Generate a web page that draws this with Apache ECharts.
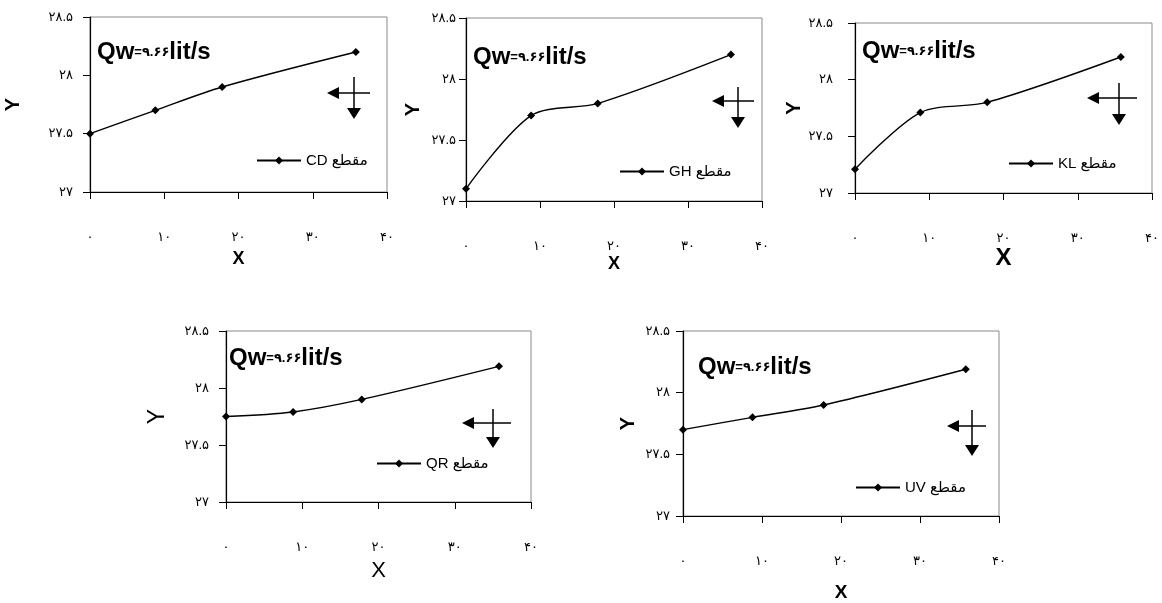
<!DOCTYPE html>
<html><head><meta charset="utf-8">
<script src="https://cdn.jsdelivr.net/npm/echarts@6/dist/echarts.min.js"></script>
<style>html,body{margin:0;padding:0;background:#fff}#c{width:1162px;height:603px}</style>
</head><body><div id="c"></div>
<script>
// ---- data ----
const xValues = [0, 8.8, 17.8, 35.8];
const sectionNames = ['مقطع CD', 'مقطع GH', 'مقطع KL', 'مقطع QR', 'مقطع UV'];
const yCD = [27.50, 27.70, 27.90, 28.20];
const yGH = [27.10, 27.70, 27.80, 28.20];
const yKL = [27.21, 27.71, 27.80, 28.20];
const yQR = [27.75, 27.79, 27.90, 28.19];
const yUV = [27.70, 27.80, 27.90, 28.19];
const xTicks = [0, 10, 20, 30, 40];
const yTicks = [27, 27.5, 28, 28.5];
const discharge = '9.66';
const unit = 'lit/s';
const seriesY = [yCD, yGH, yKL, yQR, yUV];

// ---- layout / style ----
const FONT = 'Liberation Sans, DejaVu Sans, sans-serif';
const toFa = s => String(s).replace(/[0-9]/g, d => '۰۱۲۳۴۵۶۷۸۹'[d]);
const L = [
  {g:[90,17,297,175], xn:{s:18,b:'bold',gap:58}, yn:{s:20,b:'bold',gap:67}, ym:17, t:[97,40], lg:[256,153],
   a:{hx1:327,hx2:370,hy:93,vx:354,vy1:77,vy2:119}},
  {g:[466,18,296,183], xn:{s:18,b:'bold',gap:54}, yn:{s:20,b:'bold',gap:43}, ym:10, t:[473,45], lg:[619,164],
   a:{hx1:712,hx2:754,hy:101,vx:738,vy1:87,vy2:128}},
  {g:[855,23,297,170], xn:{s:24,b:'bold',gap:38}, yn:{s:20,b:'bold',gap:37}, ym:22, t:[862,39], lg:[1008,156],
   a:{hx1:1087,hx2:1137,hy:98,vx:1119,vy1:83,vy2:125}},
  {g:[226,331,305,171], xn:{s:22,b:'normal',gap:58}, yn:{s:23,b:'normal',gap:57}, ym:17, t:[229,346], lg:[376,456],
   a:{hx1:462,hx2:511,hy:423,vx:493,vy1:409,vy2:448}},
  {g:[683,331,316,186], xn:{s:19,b:'bold',gap:67}, yn:{s:20,b:'bold',gap:45}, ym:13, t:[698,355], lg:[855,480],
   a:{hx1:947,hx2:986,hy:426,vx:972,vy1:410,vy2:456}}
];

function arrow(a){
  const st = {stroke:'#000', lineWidth:1.5};
  return [
    {type:'line', shape:{x1:a.hx1+8,y1:a.hy,x2:a.hx2,y2:a.hy}, style:st},
    {type:'polygon', shape:{points:[[a.hx1,a.hy],[a.hx1+12,a.hy-6],[a.hx1+12,a.hy+6]]}, style:{fill:'#000'}},
    {type:'line', shape:{x1:a.vx,y1:a.vy1,x2:a.vx,y2:a.vy2-8}, style:st},
    {type:'polygon', shape:{points:[[a.vx,a.vy2],[a.vx-7,a.vy2-11],[a.vx+7,a.vy2-11]]}, style:{fill:'#000'}}
  ];
}

const grid=[], xAxis=[], yAxis=[], series=[], legend=[], title=[], graphic=[];
L.forEach((p,i)=>{
  grid.push({left:p.g[0], top:p.g[1], width:p.g[2], height:p.g[3], show:true, borderColor:'#8a8a8a', borderWidth:1, containLabel:false});
  xAxis.push({gridIndex:i, type:'value', min:xTicks[0], max:xTicks[xTicks.length-1], interval:10,
    name:'X', nameLocation:'middle', nameGap:p.xn.gap,
    nameTextStyle:{fontFamily:FONT, fontSize:p.xn.s, fontWeight:p.xn.b, color:'#000'},
    axisLine:{show:true, lineStyle:{color:'#000', width:1.2}},
    axisTick:{show:true, inside:false, length:7, lineStyle:{color:'#000'}},
    axisLabel:{margin:39, fontFamily:FONT, fontSize:13, color:'#000', formatter:v=>toFa(v)},
    splitLine:{show:false}});
  yAxis.push({gridIndex:i, type:'value', min:yTicks[0], max:yTicks[yTicks.length-1], interval:0.5,
    name:'Y', nameLocation:'middle', nameGap:p.yn.gap,
    nameTextStyle:{fontFamily:FONT, fontSize:p.yn.s, fontWeight:p.yn.b, color:'#000'},
    axisLine:{show:true, lineStyle:{color:'#000', width:1.2}},
    axisTick:{show:true, inside:false, length:7, lineStyle:{color:'#000'}},
    axisLabel:{margin:p.ym, fontFamily:FONT, fontSize:13, color:'#000', padding:[0,0,5,0], formatter:v=>toFa(v)},
    splitLine:{show:false}});
  series.push({type:'line', name:sectionNames[i], xAxisIndex:i, yAxisIndex:i,
    data:xValues.map((x,j)=>[x, seriesY[i][j]]),
    symbol:'diamond', symbolSize:8, smooth:0.3,
    lineStyle:{color:'#000', width:1.4}, itemStyle:{color:'#000'}, animation:false});
  legend.push({left:p.lg[0], top:p.lg[1], data:[sectionNames[i]], itemWidth:44, itemHeight:10, itemGap:4,
    padding:0, formatter: n => '\u202B' + n + '\u202C',
    textStyle:{fontFamily:FONT, fontSize:15, color:'#000'}});
  title.push({left:p.t[0], top:p.t[1], padding:0,
    text:'{a|Qw}{b|=' + toFa(discharge) + '}{a|' + unit + '}',
    textStyle:{rich:{a:{fontFamily:FONT, fontSize:24, fontWeight:'bold', color:'#000'},
                     b:{fontFamily:FONT, fontSize:13, color:'#000'}}}});
  graphic.push(...arrow(p.a));
});

const chart = echarts.init(document.getElementById('c'), null, {renderer:'canvas'});
chart.setOption({animation:false, backgroundColor:'#fff', grid, xAxis, yAxis, series, legend, title, graphic});
</script></body></html>
